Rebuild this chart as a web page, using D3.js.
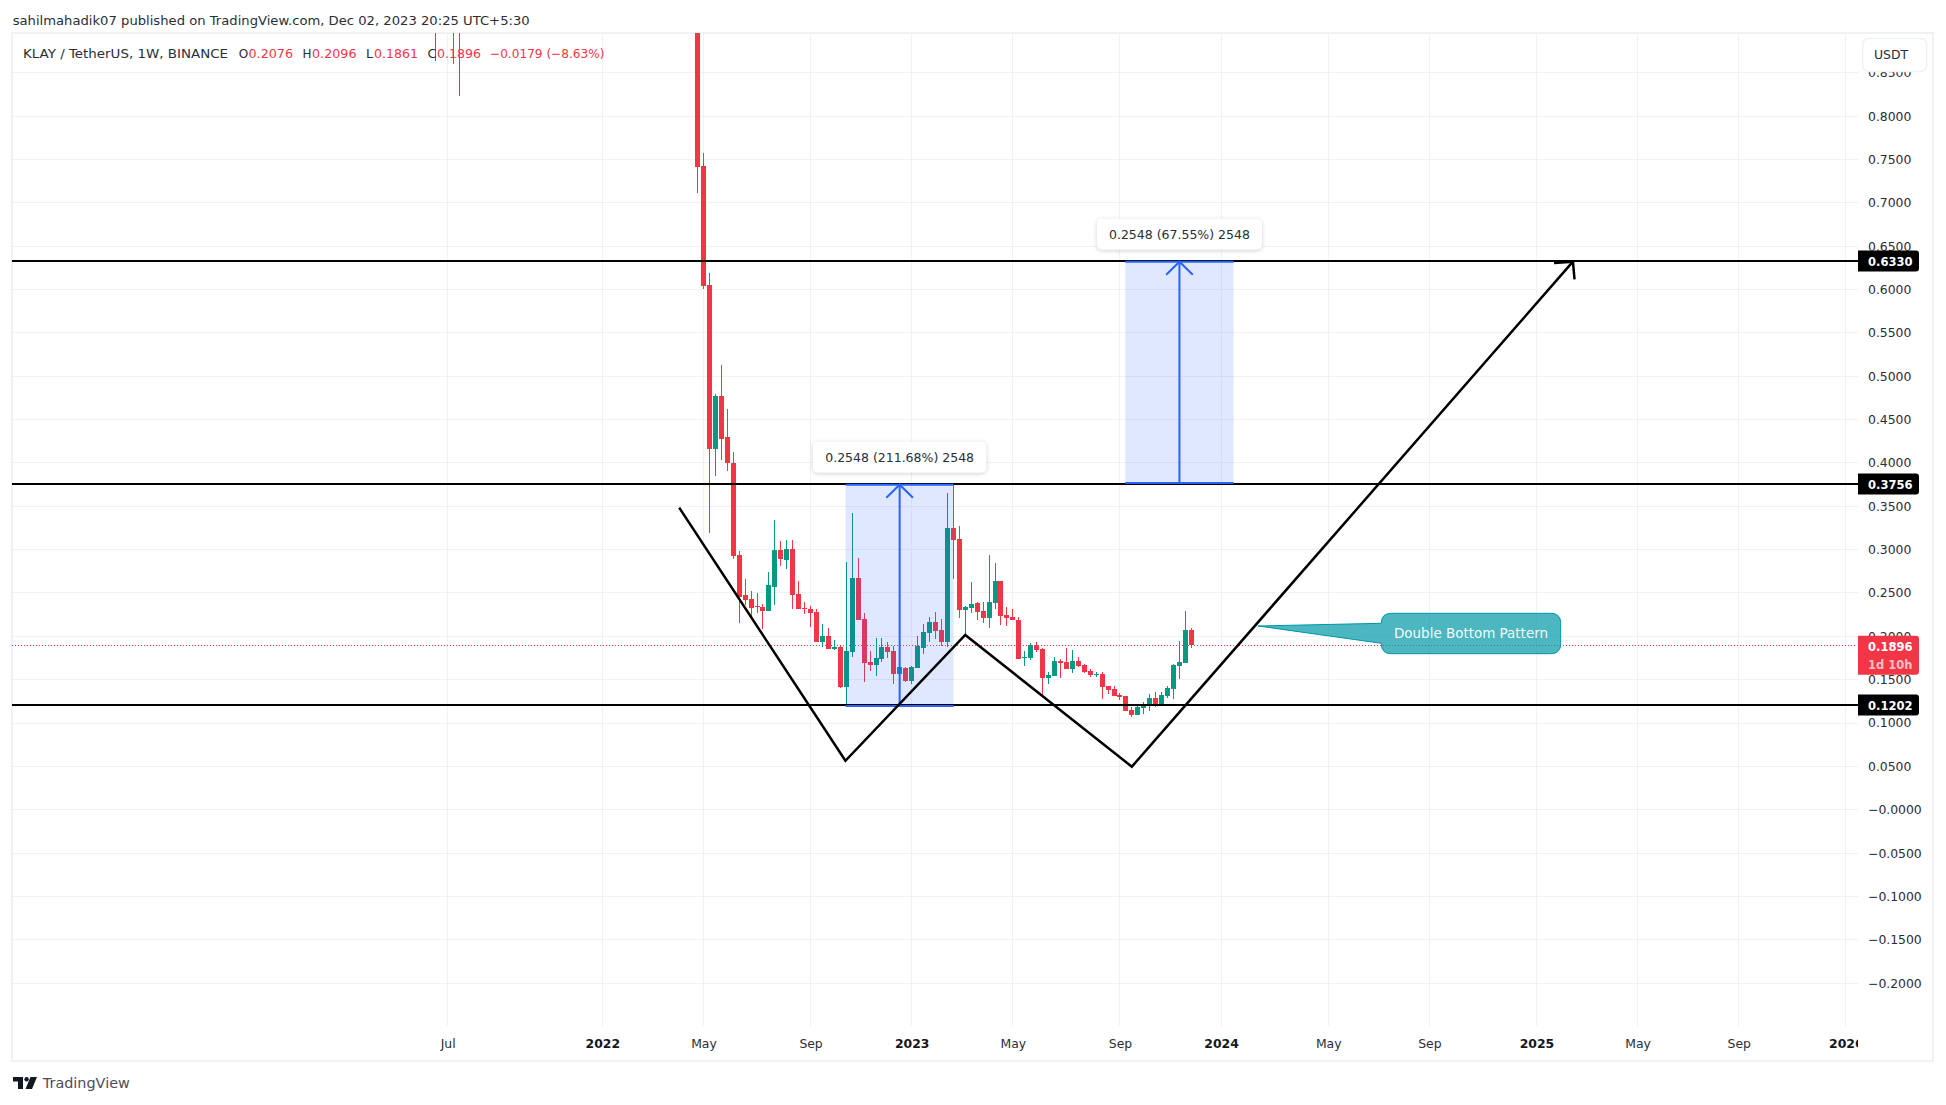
<!DOCTYPE html>
<html><head><meta charset="utf-8">
<script src="https://cdnjs.cloudflare.com/ajax/libs/d3/7.8.5/d3.min.js"></script>
<style>
html,body{margin:0;padding:0;background:#fff;overflow:hidden}
svg{display:block}
text{font-family:"DejaVu Sans",sans-serif}
</style></head><body>
<svg id="c" width="1946" height="1105"></svg>
<script>
// ---- data ----
const weeks = [-44,-41,-40].concat(d3.range(0,84));
const opens = [1.10,1.30,1.10,1.0500,.7424,.6052,.4160,.4771,.4299,.3999,.2938,.2477,.2430,.2346,.2338,.2292,.2569,.2996,.2880,.3007,.2488,.2327,.2315,.2281,.1934,.2004,.1854,.1881,.1415,.1819,.2673,.2200,.1704,.1669,.1738,.1877,.1831,.1565,.1635,.1485,.1635,.1865,.2038,.2165,.2073,.1934,.3249,.3122,.2304,.2327,.2384,.2292,.2211,.2384,.2638,.2246,.2223,.2188,.1757,.1750,.1900,.1853,.1519,.1542,.1715,.1703,.1623,.1715,.1669,.1600,.1557,.1565,.1426,.1392,.1323,.1311,.1150,.1092,.1173,.1196,.1288,.1219,.1311,.1392,.1657,.1692,.2076];
const highs = [1.30,1.45,1.35,1.1000,.7570,.6186,.4795,.5129,.4621,.4125,.2984,.2661,.2523,.2500,.2373,.2742,.3342,.3099,.3111,.3111,.2638,.2396,.2350,.2315,.2142,.2096,.1958,.1888,.2857,.3422,.2903,.2269,.1831,.1981,.1981,.1934,.1888,.1658,.1646,.1658,.2004,.2142,.2223,.2281,.2200,.3653,.3756,.3272,.2350,.2627,.2396,.2396,.2938,.2845,.2638,.2338,.2315,.2223,.1830,.1923,.1934,.1865,.1588,.1761,.1738,.1865,.1842,.1761,.1680,.1623,.1588,.1588,.1426,.1426,.1346,.1311,.1184,.1196,.1242,.1334,.1357,.1357,.1426,.1680,.1946,.2292,.2096];
const lows = [.8636,.8604,.8235,.7117,.6010,.3196,.3849,.4033,.3906,.2892,.2154,.2361,.2200,.2269,.2084,.2292,.2361,.2811,.2777,.2315,.2315,.2257,.2107,.1934,.1877,.1854,.1842,.1404,.1196,.1761,.2188,.1473,.1600,.1542,.1704,.1750,.1450,.1473,.1473,.1450,.1635,.1796,.1934,.1969,.1888,.1877,.2661,.2211,.2015,.2269,.2188,.2153,.2096,.2315,.2130,.2119,.2188,.1738,.1657,.1727,.1819,.1311,.1450,.1542,.1519,.1623,.1577,.1646,.1577,.1530,.1530,.1277,.1334,.1311,.1265,.1138,.1069,.1092,.1104,.1138,.1184,.1219,.1288,.1277,.1507,.1692,.1861];
const closes = [1.20,1.10,1.30,.7417,.6040,.4160,.4771,.4276,.3999,.2926,.2450,.2419,.2327,.2338,.2292,.2592,.2996,.2892,.3007,.2477,.2315,.2315,.2269,.1934,.2004,.1854,.1877,.1415,.1831,.2673,.2188,.1692,.1669,.1750,.1877,.1819,.1565,.1646,.1485,.1646,.1888,.2050,.2165,.2061,.1934,.3249,.3111,.2304,.2338,.2373,.2281,.2211,.2396,.2638,.2234,.2211,.2188,.1738,.1765,.1900,.1842,.1519,.1554,.1715,.1692,.1623,.1715,.1657,.1588,.1554,.1565,.1415,.1380,.1311,.1300,.1138,.1092,.1184,.1208,.1288,.1219,.1323,.1404,.1669,.1703,.2073,.1896];

const priceTicks = [.85,.8,.75,.7,.65,.6,.55,.5,.45,.4,.35,.3,.25,.2,.15,.1,.05,0,-.05,-.1,-.15,-.2];
const priceLabels = ["0.8500","0.8000","0.7500","0.7000","0.6500","0.6000","0.5500","0.5000","0.4500","0.4000","0.3500","0.3000","0.2500","0.2000","0.1500","0.1000","0.0500","\u22120.0000","\u22120.0500","\u22120.1000","\u22120.1500","\u22120.2000"];
const timeTicks = [-42,-16,1,19,36,53,71,88,106,123,141,158,175,193];
const timeLabels = ["Jul","2022","May","Sep","2023","May","Sep","2024","May","Sep","2025","May","Sep","2026"];

const levels = [0.6330,0.3756,0.1202];
const levelLabels = ["0.6330","0.3756","0.1202"];
const lastPrice = 0.1896;

const zigzagWeeks = [-3.08,24.86,45,73,147.13];
const zigzagPrices = [.3484,.0564,.2015,.0496,.6321];
const arrowWeeks = [143.95,147.13,147.4];
const arrowPrices = [.6306,.6321,.6118];

const rangeWeeks = [[24.9,43.05],[71.9,90.1]];
const rangeLow = [.1196,.3768];
const rangeHigh = [.3748,.6321];
const rangeText = ["0.2548 (211.68%) 2548","0.2548 (67.55%) 2548"];

const calloutTip = [94.2,.2119];
const calloutText = "Double Bottom Pattern";

// ---- layout ----
const L=12,T=33,PR=1858,R=1933,GB=1026,B=1061;
const red="#f23645",green="#089981",blue="#2962ff",grid="#f0f1f5",ink="#2a2e39";
const x=d3.scaleLinear().domain([0,83]).range([697.5,1191.35]);
const y=d3.scaleLinear().domain([-.2,.8]).range([983.1,116.1]);
const svg=d3.select("#c");

const defs=svg.append("defs");
defs.append("clipPath").attr("id","pane").append("rect").attr("x",L).attr("y",T).attr("width",PR-L).attr("height",GB-T);
defs.append("clipPath").attr("id","taxis").append("rect").attr("x",L).attr("y",GB).attr("width",PR-L).attr("height",B-GB);

// header
svg.append("text").attr("x",12.7).attr("y",24.5).attr("font-size",12.6).attr("fill",ink).text("sahilmahadik07 published on TradingView.com, Dec 02, 2023 20:25 UTC+5:30").attr("textLength",517).attr("lengthAdjust","spacingAndGlyphs");

// frame
svg.append("rect").attr("x",L).attr("y",T).attr("width",R-L).attr("height",B-T).attr("fill","#fff").attr("stroke",grid).attr("stroke-width",2);

// grid
const g=svg.append("g").attr("shape-rendering","crispEdges");
g.selectAll(".h").data(priceTicks).join("line").attr("x1",L).attr("x2",PR).attr("y1",d=>Math.floor(y(d))+.5).attr("y2",d=>Math.floor(y(d))+.5).attr("stroke",grid);
g.selectAll(".v").data(timeTicks).join("line").attr("y1",T).attr("y2",GB).attr("x1",d=>Math.floor(x(d))+.5).attr("x2",d=>Math.floor(x(d))+.5).attr("stroke",grid);

// axes
const ax=d3.axisRight(y).tickValues(priceTicks).tickFormat((d,i)=>priceLabels[i]).tickSize(0).tickPadding(10);
const ya=svg.append("g").attr("transform",`translate(${PR},0)`).call(ax);
ya.select(".domain").remove();
ya.selectAll("text").attr("font-size",12.4).attr("fill",ink).style("font-family",'"DejaVu Sans"');

const tx=d3.axisBottom(x).tickValues(timeTicks).tickFormat((d,i)=>timeLabels[i]).tickSize(0).tickPadding(13.5);
const xaClip=svg.append("g").attr("clip-path","url(#taxis)");
const xa=xaClip.append("g").attr("transform",`translate(0,${GB})`).call(tx);
xa.select(".domain").remove();
xa.selectAll("text").attr("font-size",12.4).style("font-family",'"DejaVu Sans"')
  .attr("font-weight",(d,i)=>/^\d/.test(timeLabels[i])?"bold":"normal").attr("fill",(d,i)=>/^\d/.test(timeLabels[i])?"#131722":ink);

// pane contents
const pane=svg.append("g").attr("clip-path","url(#pane)");
// dotted last price line
pane.append("line").attr("x1",L).attr("x2",PR-2).attr("y1",Math.floor(y(lastPrice))+.5).attr("y2",Math.floor(y(lastPrice))+.5).attr("stroke",red).attr("stroke-dasharray","1 2").attr("shape-rendering","crispEdges");
// candles
const candles=pane.append("g").attr("shape-rendering","crispEdges");
weeks.forEach((w,i)=>{
  const col=closes[i]>=opens[i]?green:red, cx=Math.floor(x(w));
  candles.append("rect").attr("x",cx).attr("width",1).attr("y",y(highs[i])).attr("height",y(lows[i])-y(highs[i])).attr("fill",col);
  const t=Math.round(y(Math.max(opens[i],closes[i]))),b=Math.round(y(Math.min(opens[i],closes[i])));
  candles.append("rect").attr("x",cx-2).attr("width",5).attr("y",t).attr("height",Math.max(1,b-t)).attr("fill",col);
});
// measure boxes
rangeWeeks.forEach((r,i)=>{
  const x0=x(r[0]),x1=x(r[1]),yt=y(rangeHigh[i]),yb=y(rangeLow[i]);
  pane.append("rect").attr("x",x0).attr("width",x1-x0).attr("y",yt).attr("height",yb-yt).attr("fill",blue).attr("fill-opacity",.15);
});
// horizontal levels
pane.selectAll(".lvl").data(levels).join("rect").attr("x",L).attr("width",PR-L).attr("y",d=>Math.round(y(d))-1).attr("height",2).attr("fill","#000").attr("shape-rendering","crispEdges");
rangeWeeks.forEach((r,i)=>{
  const x0=x(r[0]),x1=x(r[1]),yt=y(rangeHigh[i]),yb=y(rangeLow[i]),xm=(x0+x1)/2;
  const st=s=>s.attr("stroke",blue).attr("stroke-width",2).attr("fill","none");
  st(pane.append("line").attr("x1",x0).attr("x2",x1).attr("y1",yt).attr("y2",yt));
  st(pane.append("line").attr("x1",x0).attr("x2",x1).attr("y1",yb).attr("y2",yb));
  st(pane.append("line").attr("x1",xm).attr("x2",xm).attr("y1",yb).attr("y2",yt));
  st(pane.append("path").attr("d",d3.line()([[xm-13.3,yt+13],[xm,yt],[xm+13.3,yt+13]])));
  const w=i==0?173.5:165, bx=svg.append("g");
  bx.append("rect").attr("x",xm-w/2).attr("y",yt-43).attr("width",w).attr("height",31).attr("rx",5).attr("fill","#fff").style("filter","drop-shadow(0 1px 2px rgba(0,0,0,.18))");
  bx.append("text").attr("x",xm).attr("y",yt-23).attr("text-anchor","middle").attr("font-size",12.5).attr("fill",ink).text(rangeText[i]);
});
// zigzag
const pts=zigzagWeeks.map((w,i)=>[x(w),y(zigzagPrices[i])]);
pane.append("path").attr("d",d3.line()(pts)).attr("fill","none").attr("stroke","#000").attr("stroke-width",2.5).attr("stroke-linejoin","miter");
pane.append("path").attr("d",d3.line()(arrowWeeks.map((w,i)=>[x(w),y(arrowPrices[i])]))).attr("fill","none").attr("stroke","#000").attr("stroke-width",2.5);

// callout
const tip=[x(calloutTip[0]),y(calloutTip[1])];
const cb={x0:1381.3,x1:1560.7,y0:613.3,y1:653.7,r:10};
const p=d3.path();
p.moveTo(cb.x0+cb.r,cb.y0);p.lineTo(cb.x1-cb.r,cb.y0);p.quadraticCurveTo(cb.x1,cb.y0,cb.x1,cb.y0+cb.r);
p.lineTo(cb.x1,cb.y1-cb.r);p.quadraticCurveTo(cb.x1,cb.y1,cb.x1-cb.r,cb.y1);p.lineTo(cb.x0+cb.r,cb.y1);p.quadraticCurveTo(cb.x0,cb.y1,cb.x0,cb.y1-cb.r);
p.lineTo(cb.x0,643.3);p.lineTo(tip[0],tip[1]);p.lineTo(cb.x0,623.3);p.lineTo(cb.x0,cb.y0+cb.r);p.quadraticCurveTo(cb.x0,cb.y0,cb.x0+cb.r,cb.y0);p.closePath();
pane.append("path").attr("d",p.toString()).attr("fill","#0097a7").attr("fill-opacity",.7).attr("stroke","#0097a7").attr("stroke-width",1);
pane.append("text").attr("x",(cb.x0+cb.x1)/2).attr("y",637.6).attr("text-anchor","middle").attr("font-size",13.4).attr("fill","#f2fbfc").attr("textLength",154).attr("lengthAdjust","spacingAndGlyphs").text(calloutText);

// header legend
const parts=[["KLAY / TetherUS, 1W, BINANCE",23,205,ink],["O",238.8,9.5,ink],["0.2076",248.5,44.5,red],["H",302.6,9,ink],["0.2096",312,44.5,red],["L",366,7,ink],["0.1861",374,44,red],["C",427.6,9,ink],["0.1896",437,44,red],["\u22120.0179 (\u22128.63%)",490,114.5,red]];
parts.forEach(q=>svg.append("text").attr("x",q[1]).attr("y",57.8).attr("font-size",12.6).attr("fill",q[3]).attr("textLength",q[2]).attr("lengthAdjust","spacingAndGlyphs").text(q[0]));

// right side labels
const tag=(v,lab)=>{
  const yy=Math.round(y(v));
  svg.append("path").attr("d",`M${PR},${yy-10.5}H${PR+58}q3,0 3,3V${yy+7.5}q0,3 -3,3H${PR}Z`).attr("fill","#000");
  svg.append("text").attr("x",PR+10).attr("y",yy+4.8).attr("font-size",12.4).attr("font-weight","bold").attr("fill","#fff").attr("textLength",44.5).attr("lengthAdjust","spacingAndGlyphs").text(lab);
};
levels.forEach((v,i)=>tag(v,levelLabels[i]));
const yl=y(lastPrice);
svg.append("path").attr("d",`M${PR},${yl-9.5}H${PR+58}q3,0 3,3V${yl+26.5}q0,3 -3,3H${PR}Z`).attr("fill",red);
svg.append("text").attr("x",PR+10).attr("y",yl+5.8).attr("font-size",12.4).attr("font-weight","bold").attr("fill","#fff").attr("textLength",44.5).attr("lengthAdjust","spacingAndGlyphs").text("0.1896");
svg.append("text").attr("x",PR+10).attr("y",yl+24).attr("font-size",12.4).attr("font-weight","bold").attr("fill","#fff").attr("fill-opacity",.7).attr("textLength",44.5).attr("lengthAdjust","spacingAndGlyphs").text("1d 10h");

// USDT button
svg.append("rect").attr("x",1862.7).attr("y",38.5).attr("width",64).attr("height",33).attr("rx",6).attr("fill","#fff").attr("stroke",grid).attr("stroke-width",1.5);
svg.append("text").attr("x",1891).attr("y",58.8).attr("text-anchor","middle").attr("font-size",12.4).attr("fill",ink).text("USDT");

// logo
const logo=svg.append("g").attr("fill","#131722");
logo.append("path").attr("d","M13,1077H23V1089H18V1081.5H13Z");
logo.append("circle").attr("cx",26.6).attr("cy",1079.2).attr("r",2.2);
logo.append("path").attr("d","M30.5,1077H37L32,1089H25.5Z");
svg.append("text").attr("x",42.8).attr("y",1088).attr("font-size",14).attr("fill","#4a4e57").attr("textLength",87).attr("lengthAdjust","spacingAndGlyphs").text("TradingView");
</script>
</body></html>
